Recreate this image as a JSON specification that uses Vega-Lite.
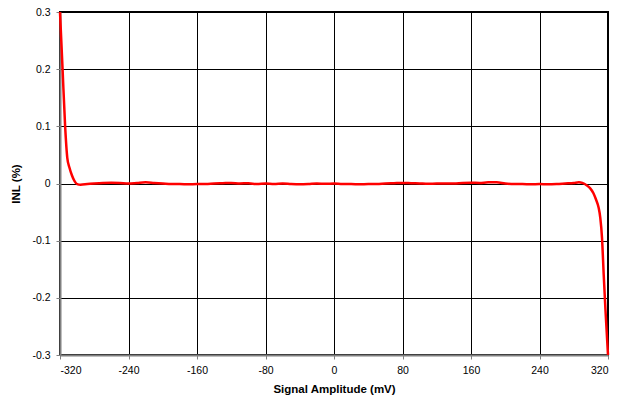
{
  "$schema": "https://vega.github.io/schema/vega-lite/v6.json",
  "autosize": "none",
  "width": 548,
  "height": 343,
  "padding": {"left": 60, "top": 12, "right": 10, "bottom": 45},
  "background": "white",
  "view": {"stroke": "black", "strokeWidth": 2},
  "data": {"values": [
    {"x": -320, "y": 0.3}, {"x": -317, "y": 0.2}, {"x": -314, "y": 0.1}, {"x": -311.5, "y": 0.045},
    {"x": -309, "y": 0.028}, {"x": -306, "y": 0.014}, {"x": -303, "y": 0.004}, {"x": -300, "y": -0.001},
    {"x": -296, "y": -0.002}, {"x": -288, "y": -0.001}, {"x": -280, "y": 0.0}, {"x": -270, "y": 0.001},
    {"x": -260, "y": 0.0015}, {"x": -250, "y": 0.001}, {"x": -240, "y": 0.0}, {"x": -230, "y": 0.001},
    {"x": -220, "y": 0.002}, {"x": -210, "y": 0.001}, {"x": -200, "y": 0.0}, {"x": -190, "y": -0.001},
    {"x": -180, "y": -0.001}, {"x": -170, "y": -0.0015}, {"x": -160, "y": -0.001}, {"x": -150, "y": -0.001},
    {"x": -140, "y": 0.0}, {"x": -130, "y": 0.0005}, {"x": -120, "y": 0.001}, {"x": -110, "y": 0.0},
    {"x": -100, "y": 0.0005}, {"x": -90, "y": -0.001}, {"x": -80, "y": 0.0}, {"x": -70, "y": -0.001},
    {"x": -60, "y": 0.0}, {"x": -50, "y": -0.001}, {"x": -40, "y": -0.0015}, {"x": -30, "y": -0.001},
    {"x": -20, "y": 0.0}, {"x": -10, "y": -0.0005}, {"x": 0, "y": 0.0}, {"x": 10, "y": -0.001},
    {"x": 20, "y": -0.001}, {"x": 30, "y": -0.0015}, {"x": 40, "y": -0.001}, {"x": 50, "y": -0.001},
    {"x": 60, "y": 0.0}, {"x": 70, "y": 0.0005}, {"x": 80, "y": 0.001}, {"x": 90, "y": 0.0005},
    {"x": 100, "y": 0.0}, {"x": 110, "y": -0.0005}, {"x": 120, "y": 0.0}, {"x": 130, "y": 0.0},
    {"x": 140, "y": 0.0}, {"x": 150, "y": 0.001}, {"x": 160, "y": 0.0015}, {"x": 170, "y": 0.001},
    {"x": 180, "y": 0.002}, {"x": 190, "y": 0.002}, {"x": 200, "y": 0.0}, {"x": 210, "y": -0.001},
    {"x": 220, "y": -0.001}, {"x": 230, "y": -0.0015}, {"x": 240, "y": -0.001}, {"x": 250, "y": -0.0015},
    {"x": 260, "y": -0.001}, {"x": 270, "y": 0.0}, {"x": 280, "y": 0.001}, {"x": 286, "y": 0.002},
    {"x": 290, "y": 0.001}, {"x": 295, "y": -0.003}, {"x": 299, "y": -0.008}, {"x": 303, "y": -0.017},
    {"x": 306, "y": -0.028}, {"x": 309, "y": -0.042}, {"x": 311, "y": -0.06}, {"x": 313, "y": -0.095},
    {"x": 315, "y": -0.16}, {"x": 317, "y": -0.22}, {"x": 320, "y": -0.3}
  ]},
  "mark": {"type": "line", "color": "#FF0000", "strokeWidth": 2.5, "interpolate": "monotone"},
  "encoding": {
    "x": {
      "field": "x", "type": "quantitative",
      "scale": {"domain": [-320, 320], "nice": false, "zero": false},
      "axis": {
        "title": "Signal Amplitude (mV)", "values": [-320, -240, -160, -80, 0, 80, 160, 240, 320],
        "labelExpr": "datum.value < 0 ? '-' + format(-datum.value, '') : format(datum.value, '')",
        "grid": true, "gridColor": "#000000", "gridWidth": 1,
        "domainColor": "#808080", "domainWidth": 2,
        "tickColor": "#808080", "tickSize": 4,
        "labelFont": "Liberation Sans", "labelFontSize": 10.5, "labelColor": "#000000", "labelPadding": 6,
        "titleFont": "Liberation Sans", "titleFontSize": 11.5, "titleFontWeight": "bold", "titleColor": "#000000", "titlePadding": 8
      }
    },
    "y": {
      "field": "y", "type": "quantitative",
      "scale": {"domain": [-0.3, 0.3], "nice": false, "zero": false},
      "axis": {
        "title": "INL (%)", "values": [-0.3, -0.2, -0.1, 0, 0.1, 0.2, 0.3],
        "labelExpr": "datum.value < 0 ? '-' + format(-datum.value, '') : format(datum.value, '')",
        "grid": true, "gridColor": "#000000", "gridWidth": 1,
        "domainColor": "#808080", "domainWidth": 2,
        "tickColor": "#808080", "tickSize": 4,
        "labelFont": "Liberation Sans", "labelFontSize": 10.5, "labelColor": "#000000", "labelPadding": 6,
        "titleFont": "Liberation Sans", "titleFontSize": 11.5, "titleFontWeight": "bold", "titleColor": "#000000", "titlePadding": 10
      }
    }
  }
}
